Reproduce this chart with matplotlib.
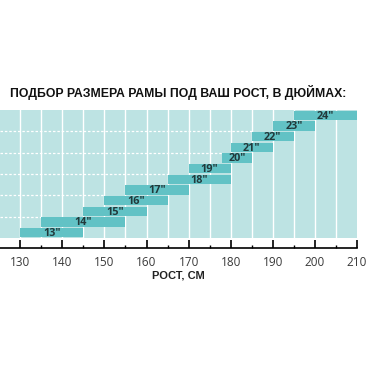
import matplotlib
matplotlib.use("Agg")
import matplotlib.pyplot as plt
from matplotlib.ticker import MultipleLocator

sizes = ['13″', '14″', '15″', '16″', '17″', '18″', '19″', '20″', '21″', '22″', '23″', '24″']
starts = [130, 135, 145, 150, 155, 165, 170, 178, 180, 185, 190, 195]
ends = [145, 155, 160, 165, 170, 180, 180, 185, 190, 195, 200, 210]
xticks = [130, 140, 150, 160, 170, 180, 190, 200, 210]

narrow = ['Liberation Sans Narrow', 'Liberation Sans', 'DejaVu Sans']
reg = ['Open Sans', 'DejaVu Sans']
bg = '#bde3e3'
barc = '#62c2c5'
txt = '#22393b'

fig = plt.figure(figsize=(3.68, 3.68), dpi=100)
ax = fig.add_axes([0, 1 - 238 / 368, 357 / 368, 128 / 368])
ax.set_facecolor(bg)
ax.set_xlim(125.2, 210)
ax.set_ylim(0, 12)

for x in range(130, 210, 5):
    ax.axvline(x, color='white', lw=1.0, zorder=1)
for k in (2, 4, 6, 8, 10):
    ax.plot([125.2, starts[k - 1]], [k, k], color='white', lw=0.9,
            ls=(0, (2, 1.5)), zorder=1)

for i, (s, a, b) in enumerate(zip(sizes, starts, ends)):
    ax.barh(i + 0.5, b - a, left=a, height=0.88, color=barc, zorder=2)
    ax.text((a + b) / 2, i + 0.42, s, ha='center', va='center', fontsize=7.8,
            fontweight='bold', color=txt, family=reg, zorder=3)

for sp in ('top', 'left', 'right'):
    ax.spines[sp].set_visible(False)
ax.spines['bottom'].set_position(('outward', 7))
ax.spines['bottom'].set_linewidth(1.2)
ax.set_yticks([])
ax.set_xticks(xticks)
ax.xaxis.set_minor_locator(MultipleLocator(5))
ax.tick_params(axis='x', which='major', direction='in', length=6, width=1.2,
               pad=6, labelsize=8.5, labelcolor='#3a3a3a')
ax.tick_params(axis='x', which='minor', direction='in', length=2.5, width=1.0)
for lab in ax.get_xticklabels():
    lab.set_family(reg)
ax.set_xlabel('РОСТ, СМ', fontsize=8, fontweight='bold', family=narrow,
              color='#222222', labelpad=1)

fig.text(178 / 368, 1 - 93 / 368, 'ПОДБОР РАЗМЕРА РАМЫ ПОД ВАШ РОСТ, В ДЮЙМАХ:',
         ha='center', va='center', fontsize=8.8, fontweight='bold',
         family=narrow, color='#111111')

fig.savefig('out.png', dpi=100, facecolor='white')
